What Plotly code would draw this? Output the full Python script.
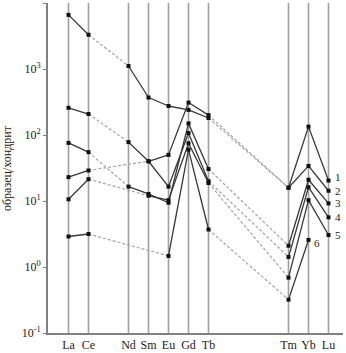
import math
import plotly.graph_objects as go

# REE sequence used for spacing (Pm omitted, Pr/Dy/Ho/Er are gaps without data)
sequence = ["La", "Ce", "Pr", "Nd", "Sm", "Eu", "Gd", "Tb", "Dy", "Ho", "Er", "Tm", "Yb", "Lu"]
elements = ["La", "Ce", "Nd", "Sm", "Eu", "Gd", "Tb", "Tm", "Yb", "Lu"]

s1 = [6600, 3300, 1110, 370, 275, 240, 181, 15.9, 134, 20.4]
s2 = [258, 208, 78, 40, 50, 310, 200, 15.9, 34, 14.3]
s3 = [76, 55, 16.5, 12.8, 9.4, 150, 30.5, 2.1, 21, 9.2]
s4 = [23, 29, None, 40, 16.5, 107, 20, 1.42, 16.2, 5.65]
s5 = [10.6, 21.4, None, 12, 10.3, 75, 18.7, 0.69, 10.3, 3.05]
s6 = [2.9, 3.16, None, None, 1.47, 60, 3.7, 0.32, 2.57, None]
series = [s1, s2, s3, s4, s5, s6]
labels = ["1", "2", "3", "4", "5", "6"]

y_tick_exp = [-1, 0, 1, 2, 3, 4]
y_title = "образец/хондрит"

SERIF = "Liberation Serif, Times New Roman, serif"
xpos = {e: sequence.index(e) for e in elements}
label_yshift = [4, 0, 0, 0, 0, -3]

fig = go.Figure()

# vertical element lines
for e in elements:
    fig.add_shape(type="line", xref="x", yref="paper", x0=xpos[e], x1=xpos[e], y0=0, y1=1,
                  line=dict(color="#a0a0a0", width=1.6), layer="below")

for s in series:
    pts = [(xpos[e], v) for e, v in zip(elements, s) if v is not None]
    sx, sy, dx, dy = [], [], [], []
    for (x0, y0), (x1, y1) in zip(pts[:-1], pts[1:]):
        if x1 - x0 > 1:
            dx += [x0, x1, None]; dy += [y0, y1, None]
        else:
            sx += [x0, x1, None]; sy += [y0, y1, None]
    fig.add_trace(go.Scatter(x=dx, y=dy, mode="lines", showlegend=False, hoverinfo="skip",
                             line=dict(color="#a5a5a5", width=1.2, dash="3px,2px")))
    fig.add_trace(go.Scatter(x=sx, y=sy, mode="lines", showlegend=False, hoverinfo="skip",
                             line=dict(color="#383838", width=1.3)))
    fig.add_trace(go.Scatter(x=[p[0] for p in pts], y=[p[1] for p in pts], mode="markers",
                             showlegend=False,
                             marker=dict(symbol="square", size=4, color="#111111")))

# series labels
for s, lab, ys in zip(series, labels, label_yshift):
    last = max(i for i, v in enumerate(s) if v is not None)
    e = elements[last]
    fig.add_annotation(x=xpos[e], y=math.log10(s[last]), text=lab, showarrow=False,
                       xanchor="left", xshift=4 if e == "Lu" else 3, yshift=ys,
                       font=dict(family=SERIF, size=11, color="#222"))

# rotated y-axis title
fig.add_annotation(xref="paper", yref="paper", x=(7 - 48) / 295, y=0.5, text=y_title,
                   textangle=-90, showarrow=False, xanchor="center", yanchor="middle",
                   font=dict(family=SERIF, size=12, color="#222"))

fig.update_layout(
    width=346, height=353,
    margin=dict(l=48, r=3, t=3, b=20),
    paper_bgcolor="white", plot_bgcolor="white",
    font=dict(family=SERIF, size=12, color="#222"),
)
fig.update_xaxes(range=[-1.025, 13.725], tickvals=[xpos[e] for e in elements], ticktext=elements,
                 automargin=False,
                 showgrid=False, zeroline=False, showline=True, linecolor="#808080", linewidth=1.6,
                 ticks="", tickfont=dict(family=SERIF, size=12, color="#222"))
fig.update_yaxes(type="log", range=[-1, 4], tickvals=[10 ** k for k in y_tick_exp],
                 ticktext=["10<sup>%d</sup>" % k for k in y_tick_exp],
                 automargin=False,
                 showgrid=False, zeroline=False, showline=True, linecolor="#808080", linewidth=1.6,
                 ticks="outside", ticklen=3, tickcolor="#808080",
                 tickfont=dict(family=SERIF, size=12, color="#222"))

fig.write_html("out.html", config={"displayModeBar": False},
               post_script="document.body.style.margin='0';document.body.style.padding='0';document.body.style.overflow='hidden';")
